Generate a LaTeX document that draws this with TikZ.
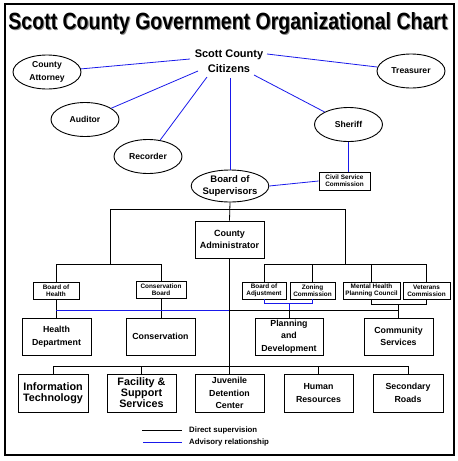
\documentclass[tikz,border=0pt]{standalone}
\usepackage{fontspec}
\setmainfont{Liberation Sans}
\usetikzlibrary{shapes.geometric}
\definecolor{advblue}{RGB}{25,25,235}
\begin{document}
\begin{tikzpicture}[x=1pt,y=-1pt,
  oval/.style={draw=black,line width=0.9pt,ellipse,minimum width=68pt,minimum height=34pt,inner sep=0pt,align=center,font=\bfseries\fontsize{8.6}{12.5}\selectfont},
  box/.style={draw=black,line width=0.9pt,rectangle,inner sep=0pt,align=center,minimum width=69pt,minimum height=37pt,font=\bfseries\fontsize{8.8}{12.5}\selectfont},
  bigbox/.style={box,minimum height=38pt,font=\bfseries\fontsize{10.8}{11}\selectfont},
  sbox/.style={draw=black,line width=0.8pt,rectangle,inner sep=0pt,align=center,minimum height=17pt,font=\bfseries\fontsize{6.4}{6.8}\selectfont},
  sup/.style={line width=0.8pt,draw=black},
  adv/.style={line width=0.8pt,draw=advblue},
  lgtext/.style={anchor=west,inner sep=0pt,font=\bfseries\fontsize{7.8}{9}\selectfont}]
\useasboundingbox (0,0) rectangle (458,461);
\fill[white] (0,0) rectangle (458,461);
\draw[line width=2pt] (5,3.5) rectangle (453.5,455);
% title
\node[anchor=base,inner sep=0pt,text=black!45] (titleshadow) at (229,30) {\resizebox{439pt}{17pt}{\bfseries Scott County Government Organizational Chart}};
\node[anchor=base,inner sep=0pt] (title) at (228,29) {\resizebox{439pt}{17pt}{\bfseries Scott County Government Organizational Chart}};
% top level
\node[inner sep=0pt,align=center,font=\bfseries\fontsize{11}{15}\selectfont] (citizens) at (229,61) {Scott County\\Citizens};
\node[oval] (attorney) at (47,72) {County\\Attorney};
\node[oval] (treasurer) at (411,71) {Treasurer};
\node[oval] (auditor) at (85,119.5) {Auditor};
\node[oval] (sheriff) at (348.5,124.5) {Sheriff};
\node[oval] (recorder) at (148,156.5) {Recorder};
\node[oval,minimum height=32pt,font=\bfseries\fontsize{9.5}{12}\selectfont] (board) at (230,186) {Board of\\Supervisors};
\node[sbox,minimum width=51pt,minimum height=18pt] (civil) at (344.5,181) {Civil Service\\Commission};
\coordinate (cA) at (190,59);
\coordinate (cT) at (267,54);
\coordinate (cAu) at (198,71);
\coordinate (cR) at (207,77);
\coordinate (cS) at (254,75);
\coordinate (cB) at (230,78);
\draw[adv] (cA) -- (attorney);
\draw[adv] (cT) -- (treasurer);
\draw[adv] (cAu) -- (auditor);
\draw[adv] (cR) -- (recorder);
\draw[adv] (cS) -- (sheriff);
\draw[adv] (cB) -- (board.north);
\draw[adv] (sheriff.south) -- (sheriff.south |- civil.north);
\draw[adv] (board.east) -- (civil.west);
% administrator
\node[box,font=\bfseries\fontsize{9}{12.5}\selectfont] (admin) at (229.5,239.5) {County\\Administrator};
\coordinate (L1) at (110,209);
\coordinate (R1) at (345,209);
\coordinate (L2) at (110,265);
\coordinate (R2) at (345,265);
\draw[sup] (board.south) -- (admin.north);
\draw[sup] (L2) -- (L1) -- (R1) -- (R2);
% boards
\node[sbox,minimum width=46pt] (bohealth) at (56,290.5) {Board of\\Health};
\node[sbox,minimum width=50pt] (consb) at (161,290) {Conservation\\Board};
\node[sbox,minimum width=44pt] (adj) at (264,290.5) {Board of\\Adjustment};
\node[sbox,minimum width=45pt] (zoning) at (312.5,290.5) {Zoning\\Commission};
\node[sbox,minimum width=57pt] (mh) at (371.5,290.5) {Mental Health\\Planning Council};
\node[sbox,minimum width=47pt] (vet) at (426.5,290.5) {Veterans\\Commission};
\draw[sup] (bohealth.north) -- ++(0,-17) -| (consb.north);
\draw[sup] (adj.north) -- ++(0,-17) -| (vet.north);
\draw[sup] (zoning.north) -- (zoning.north |- R2);
\draw[sup] (mh.north) -- (mh.north |- R2);
% departments
\node[box] (healthd) at (56.5,336.5) {Health\\Department};
\node[box] (cons) at (160.5,336.5) {Conservation};
\node[box,minimum width=68pt] (planning) at (289,336.5) {Planning\\and\\Development};
\node[box] (community) at (398.5,336.5) {Community\\Services};
\coordinate (A1) at (229.5,310);
\coordinate (P1) at (289,303);
\draw[sup] (bohealth.south) -- (bohealth.south |- healthd.north);
\draw[sup] (consb.south) -- (consb.south |- cons.north);
\draw[adv] (bohealth.south |- A1) -- (A1);
\draw[sup] (A1) -- (community.north |- A1);
\draw[adv] (adj.south) -- (adj.south |- P1) -| (zoning.south);
\draw[adv] (P1) -- (planning.north |- A1);
\draw[sup] (planning.north |- A1) -- (planning.north);
\draw[sup] (mh.south) -- ++(0,5) -| (vet.south);
\draw[sup] (community.north) -- ++(0,-14);
% bottom row
\node[bigbox,minimum width=70pt] (it) at (53,393) {Information\\Technology};
\node[bigbox] (facility) at (141.5,393) {Facility \&\\Support\\Services};
\node[box,minimum height=38pt] (juvenile) at (229.5,393) {Juvenile\\Detention\\Center};
\node[box,minimum height=38pt] (hr) at (318.5,393) {Human\\Resources};
\node[box,minimum height=38pt,minimum width=70pt] (roads) at (408,393) {Secondary\\Roads};
\draw[sup] (admin.south) -- (juvenile.north);
\draw[sup] (it.north) -- ++(0,-7) -| (roads.north);
\draw[sup] (facility.north) -- ++(0,-7);
\draw[sup] (hr.north) -- ++(0,-7);
% legend
\coordinate (lg1) at (142,430);
\coordinate (lg2) at (182,430);
\coordinate (lg3) at (143,442);
\coordinate (lg4) at (182,442);
\draw[sup] (lg1) -- (lg2);
\draw[adv] (lg3) -- (lg4);
\node[lgtext] (lgd) at (189,430) {Direct supervision};
\node[lgtext] (lga) at (189,442) {Advisory relationship};
\end{tikzpicture}
\end{document}
